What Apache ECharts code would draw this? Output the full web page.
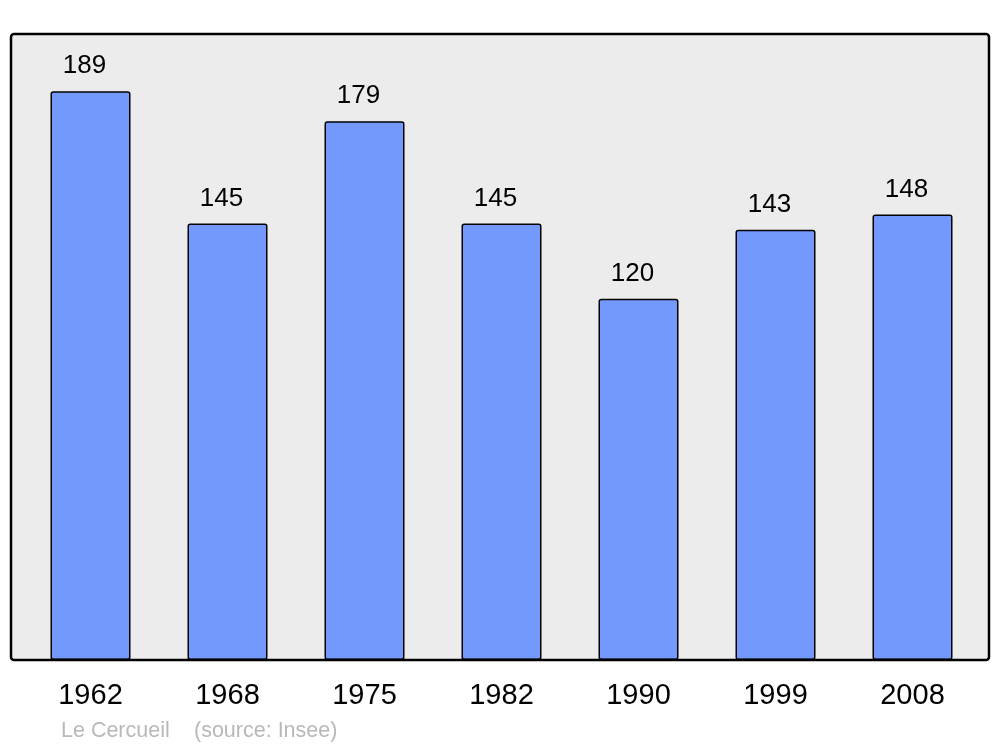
<!DOCTYPE html>
<html>
<head>
<meta charset="utf-8">
<script src="https://cdn.jsdelivr.net/npm/echarts@6/dist/echarts.min.js"></script>
<style>html,body{margin:0;padding:0;background:#fff;}#c{width:1000px;height:747px;}</style>
</head>
<body>
<div id="c"></div>
<script>
const years = ['1962', '1968', '1975', '1982', '1990', '1999', '2008'];
const population = [189, 145, 179, 145, 120, 143, 148];
const footerName = 'Le Cercueil';
const footerSource = '(source: Insee)';

const chart = echarts.init(document.getElementById('c'));
chart.setOption({
  animation: false,
  backgroundColor: '#ffffff',
  textStyle: { fontFamily: 'Liberation Sans, Arial, sans-serif' },
  grid: { left: 22, right: 19, top: 34, bottom: 87 },
  xAxis: {
    type: 'category',
    data: years,
    axisLine: { show: false },
    axisTick: { show: false },
    axisLabel: { color: '#000', fontSize: 29, margin: 36, verticalAlign: 'middle', fontFamily: 'Liberation Sans, Arial, sans-serif' }
  },
  yAxis: {
    type: 'value',
    min: 0,
    max: 208,
    show: false,
    splitLine: { show: false }
  },
  graphic: [
    { type: 'rect', z: -10, silent: true, shape: { x: 11, y: 34, width: 978, height: 626, r: 3 },
      style: { fill: '#ececec', stroke: null } },
    { type: 'rect', z: 100, silent: true, shape: { x: 11, y: 34, width: 978, height: 626, r: 3 },
      style: { fill: null, stroke: '#000', lineWidth: 2.5 } },
    { type: 'text', x: 61, y: 731, silent: true,
      style: { text: footerName, fill: '#b8b8b8', verticalAlign: 'middle', font: '21.5px "Liberation Sans", Arial, sans-serif' } },
    { type: 'text', x: 194, y: 731, silent: true,
      style: { text: footerSource, fill: '#b8b8b8', verticalAlign: 'middle', font: '21.5px "Liberation Sans", Arial, sans-serif' } }
  ],
  series: [{
    type: 'bar',
    data: population,
    barWidth: 80,
    itemStyle: { color: '#7399ff', borderColor: '#000', borderWidth: 1.5, borderRadius: 2 },
    label: { show: true, position: 'top', distance: 12, offset: [-6, 0], color: '#000', fontSize: 26, fontFamily: 'Liberation Sans, Arial, sans-serif' }
  }]
});
</script>
</body>
</html>
